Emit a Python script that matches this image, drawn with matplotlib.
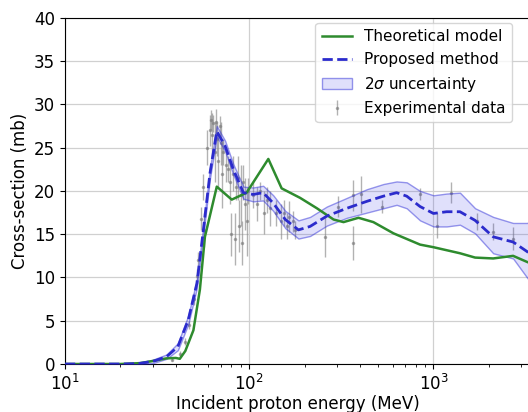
import matplotlib
matplotlib.use("Agg")
import matplotlib.pyplot as plt
import numpy as np

# theoretical model (green)
energy_theory = [10, 20, 25.5, 30, 35.6, 40, 42, 45, 49.8, 54, 57.5, 66.7, 80.4, 96.8,
                 127, 150, 189, 233, 287, 325, 392, 472, 607, 846, 1000, 1393, 1683,
                 2110, 2706, 3220, 3500]
xs_theory = [0, 0, 0.1, 0.35, 0.65, 0.7, 0.6, 1.5, 3.9, 8.6, 14.7, 20.5, 19.0, 19.8,
             23.7, 20.3, 19.2, 18.0, 16.7, 16.4, 16.9, 16.4, 15.1, 13.8, 13.5, 12.8, 12.3,
             12.2, 12.5, 11.8, 11.5]

# proposed method (blue dashed) with 2 sigma band
energy_prop = [10, 15, 20, 25, 30, 35.6, 41, 46.7, 52, 56.4, 61.3, 66.7, 74, 82, 93, 105,
               119, 135, 157, 185, 214, 264, 339, 435, 535, 631, 716, 846, 1000, 1180,
               1393, 1683, 2110, 2706, 3220, 3500]
xs_prop = [0, 0, 0, 0.05, 0.3, 0.85, 2.0, 5.1, 9.3, 15.5, 22.1, 26.9, 25.2, 22.5, 19.8, 19.6,
           19.8, 18.6, 16.7, 15.5, 15.9, 17.1, 18.0, 18.8, 19.4, 19.8, 19.4, 18.2, 17.4, 17.6,
           17.6, 16.6, 14.7, 14.1, 13.0, 12.4]
band_lo = [0, 0, 0, 0, 0.1, 0.6, 1.6, 4.6, 8.8, 15.0, 21.5, 26.3, 24.6, 21.9, 19.1, 18.8,
           18.9, 17.7, 15.7, 14.5, 14.8, 16.0, 16.9, 17.5, 18.0, 18.4, 18.0, 16.6, 15.9, 15.9,
           16.1, 15.1, 12.8, 12.2, 10.0, 9.0]
band_hi = [0, 0, 0, 0.1, 0.5, 1.1, 2.4, 5.6, 9.8, 16.0, 22.7, 27.5, 25.8, 23.1, 20.5, 20.4,
           20.6, 19.5, 17.7, 16.6, 17.0, 18.2, 19.2, 20.2, 20.8, 21.1, 21.0, 20.0, 19.5, 19.7,
           19.8, 18.0, 17.0, 16.3, 16.3, 16.6]

# experimental data
energy_exp = [38, 42, 45, 47, 50, 52, 53, 55, 56, 57,
              59, 61, 62, 63, 64, 65, 66, 67, 68, 69, 70, 71, 72,
              75, 77, 79, 80, 82, 84, 85, 87, 88, 90, 91, 93, 95, 97, 99,
              105, 110, 115, 120, 125, 130, 140, 148, 155, 160, 165, 172, 178,
              259, 305, 365, 365, 405, 524, 845, 1040, 1250, 1720, 2100, 2700]
xs_exp = [0.5, 1.2, 2.6, 4.5, 7.5, 10.2, 12.0, 16.8, 20.5, 15.5,
          25.0, 27.0, 28.2, 26.5, 27.8, 24.5, 28.0, 26.0, 23.5, 27.5, 25.5, 22.0, 24.5,
          23.0, 22.5, 21.0, 15.0, 22.0, 14.5, 20.5, 21.5, 16.0, 19.5, 14.0, 21.0, 18.5, 16.5, 20.0,
          19.5, 18.5, 20.0, 17.5, 19.0, 18.0, 17.5, 16.5, 17.5, 16.0, 17.0, 16.5, 15.5,
          14.7, 18.2, 19.5, 14.0, 19.6, 18.2, 19.6, 16.0, 19.8, 16.5, 15.3, 14.5]
err_exp = [0.2, 0.3, 0.4, 0.5, 0.7, 0.8, 1.0, 1.3, 1.5, 2.0,
           2.0, 1.8, 1.2, 2.5, 1.0, 3.5, 1.5, 2.0, 3.0, 1.2, 2.5, 4.0, 1.5,
           2.0, 1.5, 2.5, 2.5, 2.0, 3.0, 1.5, 2.5, 3.0, 3.5, 2.5, 2.0, 3.0, 4.0, 1.5,
           1.5, 2.0, 1.0, 2.5, 1.5, 2.0, 1.5, 2.0, 1.5, 1.5, 1.8, 1.2, 1.0,
           2.3, 1.2, 1.8, 2.0, 2.1, 0.8, 0.7, 1.4, 1.2, 1.0, 1.0, 1.3]

fig = plt.figure(figsize=(5.28, 4.12), dpi=100)
# right spine sits just past the edge of the cropped original
ax = fig.add_axes([0.123, 0.1165, 0.8807, 0.840])

exp = ax.errorbar(energy_exp, xs_exp, yerr=err_exp, fmt=".", color="gray", alpha=0.6,
                  markersize=3, elinewidth=1.0, capsize=0, zorder=2, label="Experimental data")
band = ax.fill_between(energy_prop, band_lo, band_hi, facecolor=(0.2, 0.2, 0.9, 0.15),
                       edgecolor=(0.2, 0.2, 0.85, 0.5), linewidth=1.0, zorder=3,
                       label=r"2$\sigma$ uncertainty")
theory, = ax.plot(energy_theory, xs_theory, color="#2e8b2e", linewidth=1.8, zorder=4,
                  label="Theoretical model")
prop, = ax.plot(energy_prop, xs_prop, "--", color="#2b2bcc", linewidth=2.0, zorder=5,
                label="Proposed method")

ax.set_xscale("log")
ax.set_xlim(10, 3340)
ax.set_xticks([10, 100, 1000])
ax.set_ylim(0, 40)
ax.set_yticks(np.arange(0, 41, 5))
ax.tick_params(labelsize=12)
ax.set_xlabel("Incident proton energy (MeV)", fontsize=12, labelpad=1)
ax.set_ylabel("Cross-section (mb)", fontsize=12)
ax.grid(True, which="major", color="#d0d0d0", linewidth=0.9)
ax.set_axisbelow(True)

ax.legend([theory, prop, band, exp],
          ["Theoretical model", "Proposed method", r"2$\sigma$ uncertainty", "Experimental data"],
          loc="upper right", bbox_to_anchor=(447 / 465, 0.985), borderaxespad=0, fontsize=11)

fig.savefig("out.png", dpi=100)
